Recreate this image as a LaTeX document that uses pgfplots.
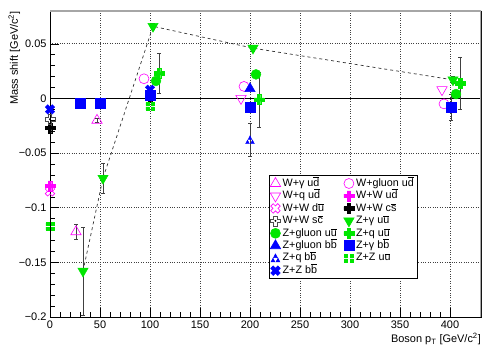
\documentclass[border=0pt]{standalone}
\usepackage{fontspec}
\setmainfont{Liberation Sans}
\setsansfont{Liberation Sans}
\usepackage{pgfplots}
\pgfplotsset{compat=1.18}

\newcommand{\crosspath}{%
 \pgfpathmoveto{\pgfqpoint{-0.35\pgfplotmarksize}{\pgfplotmarksize}}%
 \pgfpathlineto{\pgfqpoint{0.35\pgfplotmarksize}{\pgfplotmarksize}}%
 \pgfpathlineto{\pgfqpoint{0.35\pgfplotmarksize}{0.35\pgfplotmarksize}}%
 \pgfpathlineto{\pgfqpoint{\pgfplotmarksize}{0.35\pgfplotmarksize}}%
 \pgfpathlineto{\pgfqpoint{\pgfplotmarksize}{-0.35\pgfplotmarksize}}%
 \pgfpathlineto{\pgfqpoint{0.35\pgfplotmarksize}{-0.35\pgfplotmarksize}}%
 \pgfpathlineto{\pgfqpoint{0.35\pgfplotmarksize}{-\pgfplotmarksize}}%
 \pgfpathlineto{\pgfqpoint{-0.35\pgfplotmarksize}{-\pgfplotmarksize}}%
 \pgfpathlineto{\pgfqpoint{-0.35\pgfplotmarksize}{-0.35\pgfplotmarksize}}%
 \pgfpathlineto{\pgfqpoint{-\pgfplotmarksize}{-0.35\pgfplotmarksize}}%
 \pgfpathlineto{\pgfqpoint{-\pgfplotmarksize}{0.35\pgfplotmarksize}}%
 \pgfpathlineto{\pgfqpoint{-0.35\pgfplotmarksize}{0.35\pgfplotmarksize}}%
 \pgfpathclose}
\pgfdeclareplotmark{fcross}{\crosspath\pgfusepathqfillstroke}
\pgfdeclareplotmark{ocross}{\crosspath\pgfusepathqstroke}
\pgfdeclareplotmark{xcross}{\pgftransformrotate{45}\crosspath\pgfusepathqfillstroke}
\pgfdeclareplotmark{dcross}{\crosspath\pgfusepathqstroke
 \pgfpathcircle{\pgfpointorigin}{0.22\pgfplotmarksize}\pgfusepathqfill}
\pgfdeclareplotmark{tritri}{%
 \pgfpathmoveto{\pgfqpoint{-0.38\pgfplotmarksize}{0.12\pgfplotmarksize}}%
 \pgfpathlineto{\pgfqpoint{0.38\pgfplotmarksize}{0.12\pgfplotmarksize}}%
 \pgfpathlineto{\pgfqpoint{0\pgfplotmarksize}{0.85\pgfplotmarksize}}%
 \pgfpathclose
 \pgfpathmoveto{\pgfqpoint{-0.88\pgfplotmarksize}{-0.75\pgfplotmarksize}}%
 \pgfpathlineto{\pgfqpoint{-0.12\pgfplotmarksize}{-0.75\pgfplotmarksize}}%
 \pgfpathlineto{\pgfqpoint{-0.5\pgfplotmarksize}{-0.02\pgfplotmarksize}}%
 \pgfpathclose
 \pgfpathmoveto{\pgfqpoint{0.12\pgfplotmarksize}{-0.75\pgfplotmarksize}}%
 \pgfpathlineto{\pgfqpoint{0.88\pgfplotmarksize}{-0.75\pgfplotmarksize}}%
 \pgfpathlineto{\pgfqpoint{0.5\pgfplotmarksize}{-0.02\pgfplotmarksize}}%
 \pgfpathclose
 \pgfusepathqfillstroke}
\pgfdeclareplotmark{quadsq}{%
 \pgfpathrectangle{\pgfqpoint{-0.85\pgfplotmarksize}{0.15\pgfplotmarksize}}{\pgfqpoint{0.6\pgfplotmarksize}{0.6\pgfplotmarksize}}%
 \pgfpathrectangle{\pgfqpoint{0.25\pgfplotmarksize}{0.15\pgfplotmarksize}}{\pgfqpoint{0.6\pgfplotmarksize}{0.6\pgfplotmarksize}}%
 \pgfpathrectangle{\pgfqpoint{-0.85\pgfplotmarksize}{-0.75\pgfplotmarksize}}{\pgfqpoint{0.6\pgfplotmarksize}{0.6\pgfplotmarksize}}%
 \pgfpathrectangle{\pgfqpoint{0.25\pgfplotmarksize}{-0.75\pgfplotmarksize}}{\pgfqpoint{0.6\pgfplotmarksize}{0.6\pgfplotmarksize}}%
 \pgfusepathqfillstroke}

\definecolor{rmag}{RGB}{255,0,255}
\definecolor{rgreen}{RGB}{0,230,0}
\definecolor{rblue}{RGB}{0,0,255}

\newcommand{\ob}[1]{\ensuremath{\overline{\mbox{#1}}}}

\begin{document}
\begin{tikzpicture}
\useasboundingbox (0,0) rectangle (491bp,353bp);
\begin{axis}[
 at={(50bp,36bp)}, anchor=south west,
 scale only axis, width=431bp, height=306bp,
 xmin=0, xmax=431, ymin=-0.2, ymax=0.08,
 xtick={0,50,...,400}, xticklabels={0,50,100,150,200,250,300,350,400},
 ytick={-0.2,-0.15,-0.1,-0.05,0,0.05},
 yticklabels={−0.2,−0.15,−0.1,−0.05,0,0.05},
 minor x tick num=4, minor y tick num=4,
 xtick pos=bottom, ytick pos=left,
 tick align=inside,
 major tick length=9bp, minor tick length=4.5bp,
 tick style={black, line width=0.5pt},
 grid=major, grid style={dotted, black!75, line width=0.6pt},
 axis line style={black, line width=0.6pt},
 ticklabel style={font=\fontsize{11}{12}\selectfont},
 xlabel={Boson p\textsubscript{T} [GeV/c\textsuperscript{2}]},
 ylabel={Mass shift [GeV/c\textsuperscript{2}]},
 label style={font=\fontsize{11}{12}\selectfont},
 xlabel style={at={(axis description cs:1,-0.052)}, anchor=north east, inner sep=0pt},
 ylabel style={at={(axis description cs:-0.083,1.0)}, anchor=east, rotate=0, inner sep=0pt},
 legend columns=2,
 legend cell align=left,
 legend style={at={(axis cs:219,-0.0705)}, anchor=north west,
   font=\fontsize{10.8}{12}\selectfont, draw=black, line width=0.6pt, fill=white,
   inner xsep=1pt, inner ysep=1.5pt, row sep=0pt,
   nodes={inner ysep=1.5pt, inner xsep=2pt, text height=0.75em, text depth=0.2em},
   /tikz/every even column/.append style={column sep=5pt}},
 legend image code/.code={\draw[mark repeat=2,mark phase=2,line width=0.6pt] plot coordinates {(0cm,0cm)(0.17cm,0cm)(0.34cm,0cm)};},
 error bars/y dir=both, error bars/y explicit,
 error bars/error bar style={black!75, line width=0.8pt},
 error bars/error mark options={rotate=90, mark size=1.6pt, black!75, line width=0.6pt},
]
\addplot[black, line width=0.8pt, forget plot, mark=none] coordinates {(0,0) (431,0)};
\addplot[black!80, dashed, line width=0.7pt, forget plot, mark=none] coordinates {(33,-0.158) (53,-0.073) (103,0.066) (203,0.046) (403,0.017)};

% W+gamma ud
\addplot[only marks, mark=triangle, mark size=6pt, rmag, line width=0.6pt, mark options={fill=none}]
 coordinates {(26,-0.122) +- (0,0.007) (47,-0.020) +- (0,0.002)};
\addlegendentry{W+γ u\ob{d}}
% W+gluon ud
\addplot[only marks, mark=o, mark size=5pt, rmag, line width=0.6pt]
 coordinates {(94,0.018) (194,0.011) (394,-0.005)};
\addlegendentry{W+gluon u\ob{d}}
% W+q ud
\addplot[only marks, mark=triangle, mark size=6pt, rmag, line width=0.6pt, mark options={rotate=180, fill=none}]
 coordinates {(191,0.000) (392,0.008)};
\addlegendentry{W+q u\ob{d}}
% W+W ud
\addplot[only marks, mark=fcross, mark size=5pt, rmag, fill=rmag, line width=0.4pt]
 coordinates {(0,-0.080) (100,0.002)};
\addlegendentry{W+W u\ob{d}}
% W+W du
\addplot[only marks, mark=ocross, mark size=5pt, rmag, line width=0.6pt, mark options={rotate=45}]
 coordinates {(0,-0.085)};
\addlegendentry{W+W d\ob{u}}
% W+W cs
\addplot[only marks, mark=fcross, mark size=5pt, black, fill=black, line width=0.4pt]
 coordinates {(0,-0.027) (100,0.001)};
\addlegendentry{W+W c\ob{s}}
% W+W sc
\addplot[only marks, mark=dcross, mark size=5pt, black!70, fill=black, line width=0.6pt]
 coordinates {(0,-0.019)};
\addlegendentry{W+W s\ob{c}}
% Z+gamma uu
\addplot[only marks, mark=triangle*, mark size=6pt, rgreen, fill=rgreen, mark options={rotate=180}]
 coordinates {(33,-0.158) +- (0,0.040) (53,-0.073) +- (0,0.014) (103,0.066) +- (0,0.003) (203,0.046) +- (0,0.003) (403,0.017) +- (0,0.003)};
\addlegendentry{Z+γ u\ob{u}}
% Z+gluon uu
\addplot[only marks, mark=*, mark size=5pt, rgreen, fill=rgreen]
 coordinates {(106,0.016) (206,0.022) (406,0.004)};
\addlegendentry{Z+gluon u\ob{u}}
% Z+q uu
\addplot[only marks, mark=fcross, mark size=5pt, rgreen, fill=rgreen, line width=0.4pt]
 coordinates {(109,0.023) +- (0,0.018) (209,-0.001) +- (0,0.025) (410,0.014) +- (0,0.024)};
\addlegendentry{Z+q u\ob{u}}
% Z+gluon bb
\addplot[only marks, mark=triangle*, mark size=6pt, rblue, fill=rblue]
 coordinates {(200,0.009)};
\addlegendentry{Z+gluon b\ob{b}}
% Z+gamma bb
\addplot[only marks, mark=square*, mark size=5pt, rblue, fill=rblue]
 coordinates {(30,-0.004) +- (0,0.002) (50,-0.004) +- (0,0.002) (100,0.003) +- (0,0.002) (200,-0.008) +- (0,0.002) (401,-0.008) +- (0,0.012)};
\addlegendentry{Z+γ b\ob{b}}
% Z+q bb
\addplot[only marks, mark=tritri, mark size=5pt, rblue, fill=rblue, line width=0.3pt]
 coordinates {(200,-0.038) +- (0,0.015)};
\addlegendentry{Z+q b\ob{b}}
% Z+Z uu
\addplot[only marks, mark=quadsq, mark size=5pt, rgreen, fill=rgreen, line width=0.3pt]
 coordinates {(0,-0.117) (100,-0.007)};
\addlegendentry{Z+Z u\ob{u}}
% Z+Z bb
\addplot[only marks, mark=xcross, mark size=5pt, rblue, fill=rblue, line width=0.3pt]
 coordinates {(0,-0.010) (100,0.008)};
\addlegendentry{Z+Z b\ob{b}}

\draw[gray!70, line width=1.4pt] (axis description cs:0,1) -- (axis description cs:1,1) -- (axis description cs:1,0);
\end{axis}
\end{tikzpicture}
\end{document}
